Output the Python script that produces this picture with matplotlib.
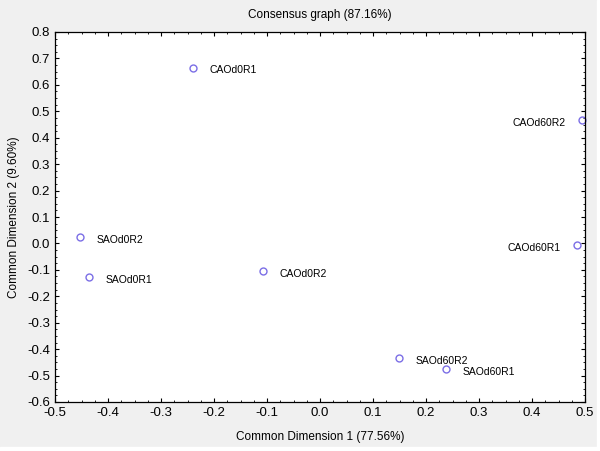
import matplotlib
matplotlib.use("Agg")
import matplotlib.pyplot as plt
from matplotlib.ticker import MultipleLocator, FormatStrFormatter
from matplotlib.patches import Rectangle

labels = ["CAOd0R1", "CAOd60R2", "SAOd0R2", "SAOd0R1", "CAOd0R2", "CAOd60R1", "SAOd60R2", "SAOd60R1"]
dim1 = [-0.240, 0.494, -0.453, -0.436, -0.108, 0.485, 0.149, 0.238]
dim2 = [0.665, 0.467, 0.024, -0.127, -0.104, -0.006, -0.433, -0.475]
label_side = ["right", "left", "right", "right", "right", "left", "right", "right"]

plt.rcParams['font.family'] = ['Liberation Sans', 'DejaVu Sans']

fig = plt.figure(figsize=(6, 4.51), dpi=100, facecolor='#f0f0f0')
fig.patches.append(Rectangle((597/600, 0), 3/600, 1, transform=fig.transFigure, color='white', zorder=0))
fig.patches.append(Rectangle((0, 0), 1, 4/451, transform=fig.transFigure, color='white', zorder=0))
ax = fig.add_axes([55/600, 49/451, 530/600, 370/451])
ax.set_facecolor('white')

ax.plot(dim1, dim2, linestyle='none', marker='o', markersize=5, markerfacecolor='none',
        markeredgecolor='#7b6ee6', markeredgewidth=1.0, clip_on=False)
for x, y, t, s in zip(dim1, dim2, labels, label_side):
    if s == "right":
        ax.annotate(t, (x, y), xytext=(12, -2), textcoords='offset points', ha='left', va='center', fontsize=7.5)
    else:
        ax.annotate(t, (x, y), xytext=(-12, -2), textcoords='offset points', ha='right', va='center', fontsize=7.5)

ax.set_xlim(-0.5, 0.5)
ax.set_ylim(-0.6, 0.8)
ax.xaxis.set_major_locator(MultipleLocator(0.1))
ax.yaxis.set_major_locator(MultipleLocator(0.1))
ax.xaxis.set_minor_locator(MultipleLocator(0.025))
ax.yaxis.set_minor_locator(MultipleLocator(0.025))
ax.xaxis.set_major_formatter(FormatStrFormatter('%.1f'))
ax.yaxis.set_major_formatter(FormatStrFormatter('%.1f'))
ax.tick_params(which='both', direction='in', top=True, right=True, labelsize=9.5)
ax.tick_params(which='major', length=3, width=0.8)
ax.tick_params(which='minor', length=1.5, width=0.6)
for sp in ax.spines.values():
    sp.set_linewidth(0.9)

ax.set_xlabel('Common Dimension 1 (77.56%)', fontsize=8.5, labelpad=9)
ax.set_ylabel('Common Dimension 2 (9.60%)', fontsize=8.5, labelpad=5)
ax.set_title('Consensus graph (87.16%)', fontsize=8.5, pad=10)

fig.savefig('out.png', dpi=100, facecolor=fig.get_facecolor())
